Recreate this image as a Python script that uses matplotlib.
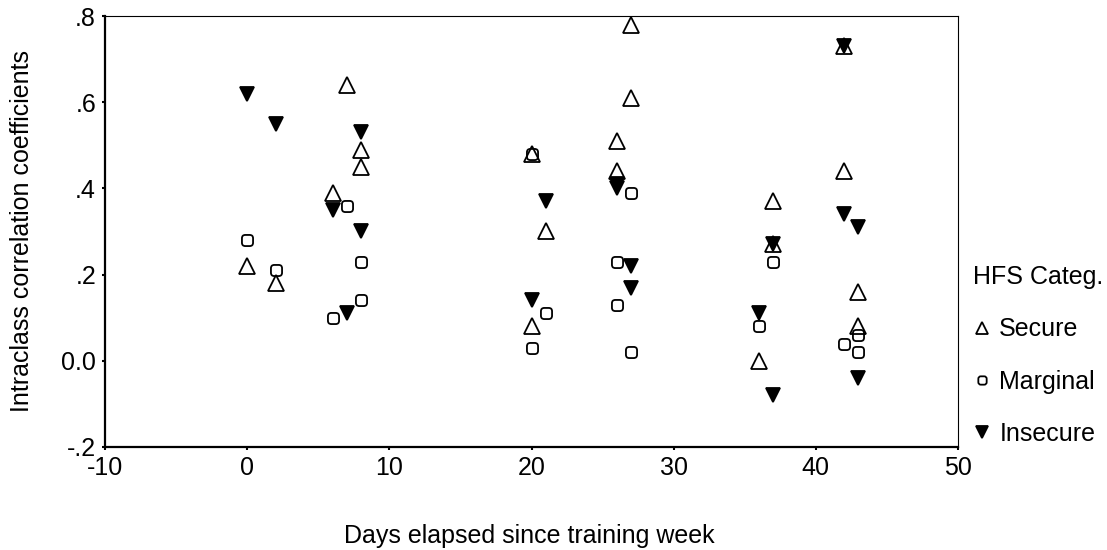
import numpy as np
import matplotlib
matplotlib.use("Agg")
import matplotlib.pyplot as plt
from matplotlib.patches import BoxStyle
from matplotlib.lines import Line2D

# values
secure_x = [0, 2, 6, 7, 8, 8, 20, 20, 21, 26, 26, 27, 27, 36, 37, 37, 42, 42, 43, 43]
secure_y = [0.22, 0.18, 0.39, 0.64, 0.49, 0.45, 0.48, 0.08, 0.30, 0.51, 0.44, 0.78, 0.61,
            0.00, 0.37, 0.27, 0.73, 0.44, 0.16, 0.08]

marginal_x = [0, 2, 6, 7, 8, 8, 20, 20, 21, 26, 26, 27, 27, 36, 37, 42, 43, 43]
marginal_y = [0.28, 0.21, 0.10, 0.36, 0.23, 0.14, 0.48, 0.03, 0.11, 0.23, 0.13, 0.39, 0.02,
              0.08, 0.23, 0.04, 0.06, 0.02]

insecure_x = [0, 2, 6, 7, 8, 8, 20, 21, 26, 26, 27, 27, 36, 37, 37, 42, 42, 43, 43]
insecure_y = [0.62, 0.55, 0.35, 0.11, 0.53, 0.30, 0.14, 0.37, 0.41, 0.40, 0.22, 0.17, 0.11,
              0.27, -0.08, 0.73, 0.34, 0.31, -0.04]

x_ticks = [-10, 0, 10, 20, 30, 40, 50]
y_ticks = [-0.2, 0.0, 0.2, 0.4, 0.6, 0.8]
y_tick_labels = ["-.2", "0.0", ".2", ".4", ".6", ".8"]

plt.rcParams['font.family'] = ['Liberation Sans', 'DejaVu Sans']
plt.rcParams['axes.unicode_minus'] = False
fs = 18

# rounded square marker like the SPSS one
round_sq = BoxStyle.Round(pad=0, rounding_size=0.3)(-0.5, -0.5, 1.0, 1.0, 1.0)

fig = plt.figure(figsize=(11.07, 5.5), dpi=100)
ax = fig.add_axes([0.0949, 0.1873, 0.7705, 0.7836])

mk = dict(linestyle="none", color="black", markeredgewidth=1.3)
ax.plot(marginal_x, marginal_y, marker=round_sq, markersize=8, markerfacecolor="none", **mk)
ax.plot(insecure_x, insecure_y, marker="v", markersize=10.5, markerfacecolor="black", **mk)
ax.plot(secure_x, secure_y, marker="^", markersize=11, markerfacecolor="none", **mk)

ax.set_xlim(-10, 50)
ax.set_ylim(-0.2, 0.8)
ax.set_xticks(x_ticks)
ax.set_yticks(y_ticks)
ax.set_yticklabels(y_tick_labels)
ax.tick_params(direction="out", length=2.5, width=1.5, labelsize=fs, pad=4)

for side in ["left", "bottom"]:
    ax.spines[side].set_linewidth(1.6)
for side in ["top", "right"]:
    ax.spines[side].set_linewidth(0.8)

ax.set_xlabel("Days elapsed since training week", fontsize=fs, va="center")
ax.xaxis.set_label_coords(0.497, -0.206)
ax.set_ylabel("Intraclass correlation coefficients", fontsize=fs, ha="center", va="center")
ax.yaxis.set_label_coords(-0.097, 0.5)

# legend
handles = [
    Line2D([], [], marker="^", markersize=8, markerfacecolor="none", **mk),
    Line2D([], [], marker=round_sq, markersize=6, markerfacecolor="none", **mk),
    Line2D([], [], marker="v", markersize=8, markerfacecolor="black", **mk),
]
leg = fig.legend(handles, ["Secure", "Marginal", "Insecure"], title="HFS Categ.",
                 loc="upper left", bbox_to_anchor=(0.879, 0.518), frameon=False,
                 fontsize=fs, title_fontsize=fs, handlelength=0.7, handletextpad=0.35,
                 labelspacing=1.13, alignment="left", borderpad=0, borderaxespad=0)

fig.savefig("out.png", dpi=100)
